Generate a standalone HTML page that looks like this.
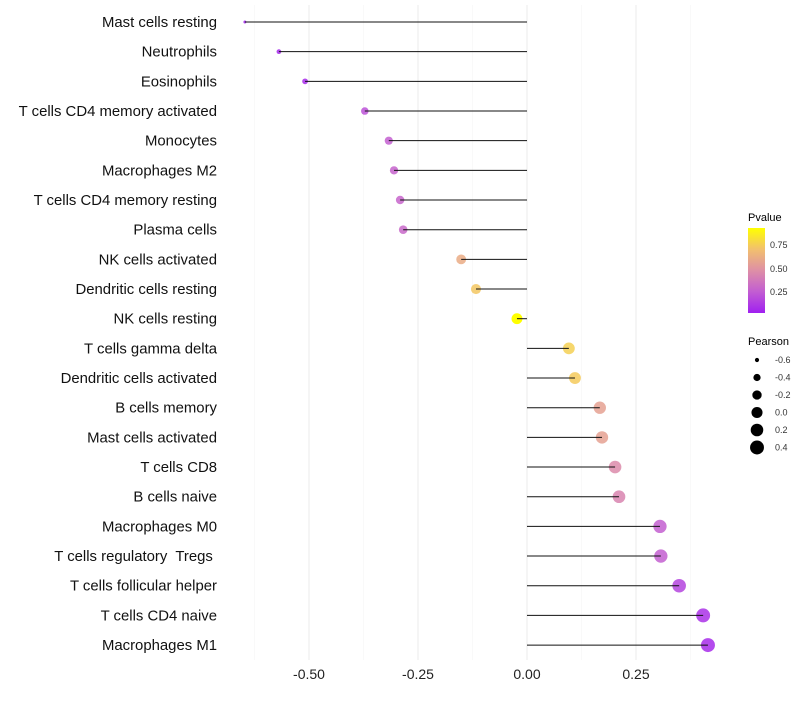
<!DOCTYPE html>
<html><head><meta charset="utf-8"><style>
body{margin:0;background:#fff;font-family:"Liberation Sans",Arial,sans-serif}
text{white-space:pre}
</style></head><body>
<svg id="chart" width="800" height="700" xmlns="http://www.w3.org/2000/svg" font-family="Liberation Sans, Arial, sans-serif">
<g id="grid"></g>
<g id="ylabels"></g>
<g id="xlabels"></g>
<g id="marks"></g>
<g id="legend">
<defs><linearGradient id="pg" x1="0" y1="1" x2="0" y2="0">
<stop offset="0" stop-color="#a020f0"/><stop offset="0.25" stop-color="#c25dd2"/><stop offset="0.5" stop-color="#de8fa6"/><stop offset="0.75" stop-color="#f2c06e"/><stop offset="1" stop-color="#ffff00"/></linearGradient></defs>
<text x="748" y="221" font-size="11">Pvalue</text>
<rect x="748" y="228" width="17" height="85" fill="url(#pg)"/>
<text x="770" y="248" font-size="9" fill="#333">0.75</text>
<text x="770" y="272" font-size="9" fill="#333">0.50</text>
<text x="770" y="295" font-size="9" fill="#333">0.25</text>
<text x="748" y="345" font-size="11">Pearson</text>
<g id="sizeleg"></g>
</g>
</svg>
<script>
const categories=["Mast cells resting","Neutrophils","Eosinophils","T cells CD4 memory activated","Monocytes","Macrophages M2","T cells CD4 memory resting","Plasma cells","NK cells activated","Dendritic cells resting","NK cells resting","T cells gamma delta","Dendritic cells activated","B cells memory","Mast cells activated","T cells CD8","B cells naive","Macrophages M0","T cells regulatory  Tregs ","T cells follicular helper","T cells CD4 naive","Macrophages M1"];
const pearson=[-0.647,-0.569,-0.509,-0.372,-0.317,-0.305,-0.291,-0.284,-0.151,-0.117,-0.023,0.096,0.110,0.167,0.172,0.202,0.211,0.305,0.307,0.349,0.404,0.415];
const pvalues=[0.03,0.05,0.06,0.2,0.25,0.27,0.28,0.29,0.6,0.72,0.92,0.75,0.73,0.55,0.55,0.45,0.42,0.25,0.25,0.15,0.08,0.06];
const xTicks=[-0.5,-0.25,0,0.25];
const xTickLabels=["-0.50","-0.25","0.00","0.25"];
const minorTicks=[-0.625,-0.375,-0.125,0.125,0.375];
const sizeLegend=[-0.6,-0.4,-0.2,0.0,0.2,0.4];
const sizeLegendLabels=["-0.6","-0.4","-0.2","0.0","0.2","0.4"];
const NS="http://www.w3.org/2000/svg";
const x=v=>527+v*436;
const y=i=>22+i*29.67;
const pmin=0.016,pmax=0.92;
const smin=-0.647,smax=0.415;
const r=v=>Math.sqrt(2.25+Math.max(0,(v-smin)/(smax-smin))*46.75);
const stops=[[0,[160,32,240]],[0.25,[194,93,210]],[0.5,[222,143,166]],[0.75,[242,192,110]],[1,[255,255,0]]];
function col(p){let t=Math.min(1,Math.max(0,(p-pmin)/(pmax-pmin)));for(let k=0;k<stops.length-1;k++){const[a,ca]=stops[k],[b,cb]=stops[k+1];if(t<=b){const f=(t-a)/(b-a);return`rgb(${ca.map((c,j)=>Math.round(c+(cb[j]-c)*f)).join(",")})`;}}return"rgb(255,255,0)";}
function mk(t,at){const e=document.createElementNS(NS,t);for(const k in at)e.setAttribute(k,at[k]);return e;}
const grid=document.getElementById("grid");
minorTicks.forEach(v=>{const l=mk("line",{x1:x(v),x2:x(v),y1:5,y2:660,stroke:"#f5f5f5","stroke-width":0.6});

grid.appendChild(l);});
xTicks.forEach((v,i)=>{const l=mk("line",{x1:x(v),x2:x(v),y1:5,y2:660,stroke:"#ebebeb","stroke-width":1});

grid.appendChild(l);
const t=mk("text",{x:x(v),y:679,"font-size":14,"text-anchor":"middle",fill:"#222"});t.textContent=xTickLabels[i];

document.getElementById("xlabels").appendChild(t);});
const marks=document.getElementById("marks"),yl=document.getElementById("ylabels");
categories.forEach((c,i)=>{
const t=mk("text",{x:217,y:y(i)+5,"font-size":14.9,"text-anchor":"end",fill:"#111"});t.textContent=c;

yl.appendChild(t);
const full=pvalues[i]>0.9;
const ci=mk("circle",{cx:x(pearson[i]),cy:y(i),r:r(pearson[i]),fill:col(pvalues[i]),"fill-opacity":full?1:0.85});

marks.appendChild(ci);
const l=mk("line",{x1:x(0),x2:x(pearson[i]),y1:y(i),y2:y(i),stroke:"#111","stroke-width":1});

marks.appendChild(l);});
const sl=document.getElementById("sizeleg");
sizeLegend.forEach((v,i)=>{const yy=360+i*17.5;
const c=mk("circle",{cx:757,cy:yy,r:r(v),fill:"#000"});

sl.appendChild(c);
const t=mk("text",{x:775,y:yy+3,"font-size":9,fill:"#333"});t.textContent=sizeLegendLabels[i];

sl.appendChild(t);});
</script>
</body></html>
